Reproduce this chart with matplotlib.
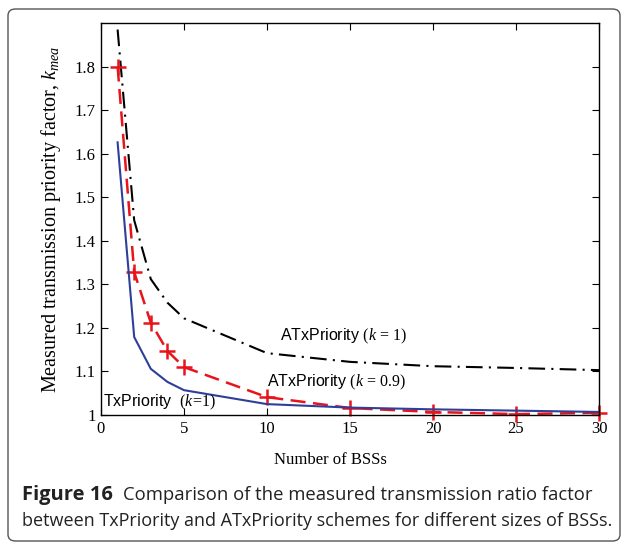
import matplotlib
matplotlib.use("Agg")
import matplotlib.pyplot as plt
from matplotlib.patches import FancyBboxPatch
from matplotlib.transforms import offset_copy

plt.rcParams["mathtext.fontset"] = "custom"
plt.rcParams["mathtext.rm"] = "Liberation Serif"
plt.rcParams["mathtext.it"] = "Liberation Serif:italic"

# number of BSSs
bss = [1, 2, 3, 4, 5, 10, 15, 20, 25, 30]

# measured priority factor k_mea
tx_k1 = [1.626, 1.179, 1.106, 1.076, 1.057, 1.025, 1.017, 1.013, 1.010, 1.007]
atx_k09 = [1.800, 1.328, 1.212, 1.147, 1.110, 1.041, 1.016, 1.007, 1.002, 1.005]
atx_k1 = [1.885, 1.447, 1.312, 1.258, 1.222, 1.142, 1.122, 1.112, 1.108, 1.103]

xticks = [0, 5, 10, 15, 20, 25, 30]
yticks = [1, 1.1, 1.2, 1.3, 1.4, 1.5, 1.6, 1.7, 1.8]

serif = "Liberation Serif"
sans = "Liberation Sans"

fig = plt.figure(figsize=(6.26, 5.48), dpi=100)

# rounded frame round the whole figure
frame = FancyBboxPatch((8 / 626, 7 / 548), 612 / 626, 532 / 548,
                       boxstyle="round,pad=0,rounding_size=0.012",
                       transform=fig.transFigure, fill=False,
                       edgecolor="#555555", linewidth=1.0)
fig.patches.append(frame)

ax = fig.add_axes([101 / 626, 1 - 415 / 548, 498 / 626, 392 / 548])

ax.plot(bss, atx_k1, color="black", linewidth=1.5, linestyle=(0, (8, 3, 1, 3)))
ax.plot(bss, atx_k09, color="#e8141c", linewidth=1.8, linestyle=(0, (6, 3)),
        marker="+", markersize=11, markeredgewidth=1.8, clip_on=False)
ax.plot(bss, tx_k1, color="#2e3f9a", linewidth=1.5)

ax.set_xlim(0, 30)
ax.set_ylim(1, 1.9)
ax.set_xticks(xticks)
ax.set_yticks(yticks)
ax.set_xticklabels([str(t) for t in xticks], fontfamily=serif, fontsize=12)
ax.set_yticklabels(["1"] + ["%.1f" % t for t in yticks[1:]], fontfamily=serif, fontsize=12)
ax.tick_params(direction="in", top=True, right=True, length=5, width=0.8, pad=4)
for s in ax.spines.values():
    s.set_linewidth(1.0)

ax.set_xlabel("Number of BSSs", fontfamily=serif, fontsize=12)
ax.xaxis.set_label_coords(0.46, -0.095)
ax.set_ylabel(r"Measured transmission priority factor, $k_{mea}$",
              fontfamily=serif, fontsize=14.5, labelpad=8)

ax.text(10.8, 1.181, r"ATxPriority $(k\,=\,1)$", fontfamily=sans, fontsize=11.5, va="center")
ax.text(10.0, 1.074, r"ATxPriority $(k\,=\,0.9)$", fontfamily=sans, fontsize=11.5, va="center")
ax.text(0.1, 1.030, r"TxPriority  $(k\!=\!1)$", fontfamily=sans, fontsize=11.5, va="center")

# caption: bold label followed by normal text on the same line
cap_color = "#222222"
t1 = fig.text(22 / 626, 1 - 495 / 548, "Figure 16", fontsize=14.5, fontweight="bold",
              color=cap_color, va="center", fontfamily="Open Sans")
fig.canvas.draw()
w = t1.get_window_extent().width
fig.text(22 / 626, 1 - 495 / 548, "Comparison of the measured transmission ratio factor",
         fontsize=13.3, color=cap_color, va="center", fontfamily="Open Sans",
         transform=offset_copy(fig.transFigure, fig=fig, x=(w + 10) * 72 / fig.dpi, y=0, units="points"))
fig.text(22 / 626, 1 - 521 / 548,
         "between TxPriority and ATxPriority schemes for different sizes of BSSs.",
         fontsize=13, color=cap_color, va="center", fontfamily="Open Sans")

fig.savefig("out.png", dpi=100)
